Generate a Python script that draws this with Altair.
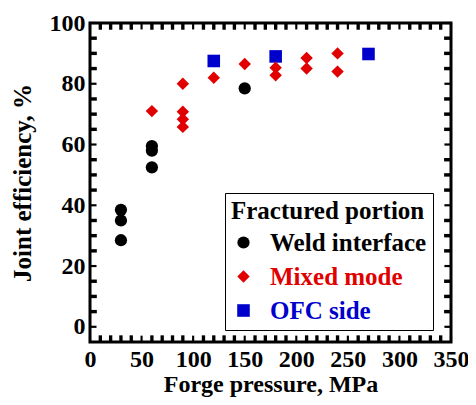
import altair as alt
import pandas as pd

categories = ["Weld interface", "Mixed mode", "OFC side"]
colors = ["#000000", "#e00000", "#0000cc"]
shapes = ["circle", "diamond", "square"]
sizes = [150, 190, 215]

weld_x = [30, 30, 30, 60, 60, 60, 150]
weld_y = [38.5, 35, 28.5, 59.5, 58, 52.5, 78.5]
mixed_x = [60, 90, 90, 90, 90, 120, 150, 180, 180, 210, 210, 240, 240]
mixed_y = [71, 80, 70.8, 68.3, 65.8, 82, 86.5, 85.3, 82.8, 88.5, 85, 90, 84]
ofc_x = [120, 180, 270]
ofc_y = [87.5, 89, 89.8]

x_major = [0, 50, 100, 150, 200, 250, 300, 350]
x_minor = [10, 20, 30, 40, 60, 70, 80, 90, 110, 120, 130, 140, 160, 170, 180, 190,
           210, 220, 230, 240, 260, 270, 280, 290, 310, 320, 330, 340]
y_major = [0, 20, 40, 60, 80, 100]
y_minor = [5, 10, 15, 25, 30, 35, 45, 50, 55, 65, 70, 75, 85, 90, 95]

FONT = "Liberation Serif"
W, H = 361, 319
X0, X1 = 0, 350
Y0, Y1 = -5, 100

# inward tick glyphs as custom symbol paths (unit = sqrt(size)/2 px)
MAJ_SIZE, MIN_SIZE = 324, 100          # 9 px and 5 px long
tick_kinds = {
    "tick_b": ("M-0.167,0L0.167,0L0.167,-1L-0.167,-1Z", MAJ_SIZE),
    "tick_t": ("M-0.167,0L0.167,0L0.167,1L-0.167,1Z", MAJ_SIZE),
    "tick_l": ("M0,-0.167L1,-0.167L1,0.167L0,0.167Z", MAJ_SIZE),
    "tick_r": ("M0,-0.167L-1,-0.167L-1,0.167L0,0.167Z", MAJ_SIZE),
    "mtick_b": ("M-0.25,0L0.25,0L0.25,-1L-0.25,-1Z", MIN_SIZE),
    "mtick_t": ("M-0.25,0L0.25,0L0.25,1L-0.25,1Z", MIN_SIZE),
    "mtick_l": ("M0,-0.25L1,-0.25L1,0.25L0,0.25Z", MIN_SIZE),
    "mtick_r": ("M0,-0.25L-1,-0.25L-1,0.25L0,0.25Z", MIN_SIZE),
}

rows = []
for v in x_major:
    rows.append({"x": v, "y": Y0, "cat": "tick_b"})
    rows.append({"x": v, "y": Y1, "cat": "tick_t"})
for v in x_minor:
    rows.append({"x": v, "y": Y0, "cat": "mtick_b"})
    rows.append({"x": v, "y": Y1, "cat": "mtick_t"})
for v in y_major:
    rows.append({"x": X0, "y": v, "cat": "tick_l"})
    rows.append({"x": X1, "y": v, "cat": "tick_r"})
for v in y_minor:
    rows.append({"x": X0, "y": v, "cat": "mtick_l"})
    rows.append({"x": X1, "y": v, "cat": "mtick_r"})
for xs, ys, cat in [(ofc_x, ofc_y, "OFC side"), (weld_x, weld_y, "Weld interface"),
                    (mixed_x, mixed_y, "Mixed mode")]:
    for a, b in zip(xs, ys):
        rows.append({"x": a, "y": b, "cat": cat})
df = pd.DataFrame(rows)

all_cats = categories + list(tick_kinds)
all_colors = colors + ["#000000"] * len(tick_kinds)
all_shapes = shapes + [p for p, s in tick_kinds.values()]
all_sizes = sizes + [s for p, s in tick_kinds.values()]

x_scale = alt.Scale(domain=[X0, X1], nice=False, zero=False)
y_scale = alt.Scale(domain=[Y0, Y1], nice=False, zero=False)

x_axis = alt.Axis(
    orient="bottom", values=x_major, ticks=False, domain=False, grid=False,
    labelOverlap=False, labelFlush=False,
    labelFont=FONT, labelFontSize=24, labelFontWeight="bold", labelColor="black",
    labelPadding=5, title="Forge pressure, MPa", titleFont=FONT, titleFontSize=24,
    titleFontWeight="bold", titleColor="black", titleBaseline="alphabetic",
    titleY=49)
y_axis = alt.Axis(
    orient="left", values=y_major, ticks=False, domain=False, grid=False,
    labelOverlap=False, labelFlush=False,
    labelFont=FONT, labelFontSize=24, labelFontWeight="bold", labelColor="black",
    labelPadding=5, title="Joint efficiency, %", titleFont=FONT, titleFontSize=25,
    titleFontWeight="bold", titleColor="black", titlePadding=14)

label_expr = ("datum.label == 'Mixed mode' ? '#e00000' : "
              "datum.label == 'OFC side' ? '#0000cc' : '#000000'")

legend = alt.Legend(
    orient="none", legendX=135, legendY=170, title="Fractured portion",
    values=categories,
    titleFont=FONT, titleFontSize=25, titleFontWeight="bold", titleColor="black",
    titleLimit=400, titlePadding=6,
    labelFont=FONT, labelFontSize=25, labelFontWeight="bold", labelLimit=400,
    labelColor={"expr": label_expr}, labelOffset=14,
    strokeColor="black", fillColor="white", padding=6,
    symbolSize=160, symbolStrokeWidth=0, rowPadding=8,
)

chart = alt.Chart(df).mark_point(filled=True, opacity=1, strokeWidth=0).encode(
    x=alt.X("x:Q", scale=x_scale, axis=x_axis),
    y=alt.Y("y:Q", scale=y_scale, axis=y_axis),
    color=alt.Color("cat:N", scale=alt.Scale(domain=all_cats, range=all_colors), legend=legend),
    shape=alt.Shape("cat:N", scale=alt.Scale(domain=all_cats, range=all_shapes), legend=legend),
    size=alt.Size("cat:N", scale=alt.Scale(domain=all_cats, range=all_sizes), legend=None),
).properties(
    width=W, height=H,
    autosize=alt.AutoSizeParams(type="none"),
    padding={"left": 82, "top": 15, "right": 17, "bottom": 55},
).configure_view(stroke="black", strokeWidth=3)

chart.save("out.html", embed_options={"renderer": "svg", "actions": False})
